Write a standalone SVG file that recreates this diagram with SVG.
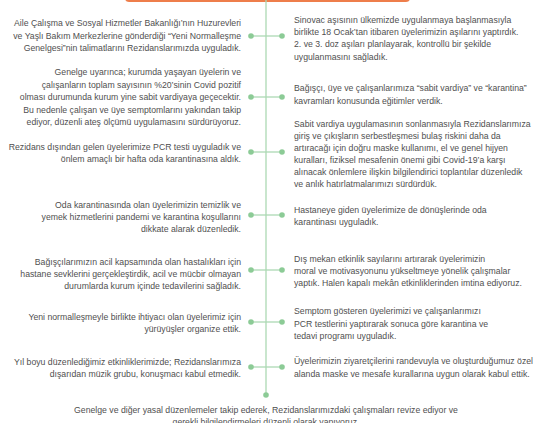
<svg xmlns="http://www.w3.org/2000/svg" width="534" height="423" viewBox="0 0 534 423">
<style>
.t{font-family:"Liberation Sans",Arial,sans-serif;font-size:8.7px;fill:#505050}
.l{text-anchor:end}
.m{text-anchor:middle}
.ln{stroke:#acd9b3;stroke-width:1.3;fill:none}
.dot{fill:#8ccb96}
</style>
<rect width="534" height="423" fill="#ffffff"/>
<g id="header"><rect x="125" y="-10" width="285" height="12" rx="4" fill="#ee7e4b"/></g>
<g id="connectors">
<line class="ln" x1="266" y1="0" x2="266" y2="395"/>
<line class="ln" x1="251" y1="36" x2="282" y2="36"/>
<line class="ln" x1="251" y1="97" x2="282" y2="97"/>
<line class="ln" x1="251" y1="152" x2="282" y2="152"/>
<line class="ln" x1="251" y1="215" x2="282" y2="215"/>
<line class="ln" x1="251" y1="270" x2="282" y2="270"/>
<line class="ln" x1="251" y1="322" x2="282" y2="322"/>
<line class="ln" x1="251" y1="367" x2="282" y2="367"/>
<g class="dot">
<circle cx="251" cy="36" r="2.8"/><circle cx="282" cy="36" r="2.8"/>
<circle cx="251" cy="97" r="2.8"/><circle cx="282" cy="97" r="2.8"/>
<circle cx="251" cy="152" r="2.8"/><circle cx="282" cy="152" r="2.8"/>
<circle cx="251" cy="215" r="2.8"/><circle cx="282" cy="215" r="2.8"/>
<circle cx="251" cy="270" r="2.8"/><circle cx="282" cy="270" r="2.8"/>
<circle cx="251" cy="322" r="2.8"/><circle cx="282" cy="322" r="2.8"/>
<circle cx="251" cy="367" r="2.8"/><circle cx="282" cy="367" r="2.8"/>
<circle cx="266" cy="395" r="2.8"/>
</g>
</g>
<g id="left1"><text class="t l"><tspan x="241" y="26">Aile Çalışma ve Sosyal Hizmetler Bakanlığı’nın Huzurevleri</tspan><tspan x="241" y="39">ve Yaşlı Bakım Merkezlerine gönderdiği “Yeni Normalleşme</tspan><tspan x="241" y="51">Genelgesi”nin talimatlarını Rezidanslarımızda uyguladık.</tspan></text></g>
<g id="left2"><text class="t l"><tspan x="241" y="75">Genelge uyarınca; kurumda yaşayan üyelerin ve</tspan><tspan x="241" y="88">çalışanların toplam sayısının %20’sinin Covid pozitif</tspan><tspan x="241" y="100">olması durumunda kurum yine sabit vardiyaya geçecektir.</tspan><tspan x="241" y="113">Bu nedenle çalışan ve üye semptomlarını yakından takip</tspan><tspan x="241" y="125">ediyor, düzenli ateş ölçümü uygulamasını sürdürüyoruz.</tspan></text></g>
<g id="left3"><text class="t l"><tspan x="241" y="150">Rezidans dışından gelen üyelerimize PCR testi uyguladık ve</tspan><tspan x="241" y="162">önlem amaçlı bir hafta oda karantinasına aldık.</tspan></text></g>
<g id="left4"><text class="t l"><tspan x="241" y="208">Oda karantinasında olan üyelerimizin temizlik ve</tspan><tspan x="241" y="220">yemek hizmetlerini pandemi ve karantina koşullarını</tspan><tspan x="241" y="232">dikkate alarak düzenledik.</tspan></text></g>
<g id="left5"><text class="t l"><tspan x="241" y="265">Bağışçılarımızın acil kapsamında olan hastalıkları için</tspan><tspan x="241" y="277">hastane sevklerini gerçekleştirdik, acil ve mücbir olmayan</tspan><tspan x="241" y="289">durumlarda kurum içinde tedavilerini sağladık.</tspan></text></g>
<g id="left6"><text class="t l"><tspan x="241" y="320">Yeni normalleşmeyle birlikte ihtiyacı olan üyelerimiz için</tspan><tspan x="241" y="332">yürüyüşler organize ettik.</tspan></text></g>
<g id="left7"><text class="t l"><tspan x="241" y="365">Yıl boyu düzenlediğimiz etkinliklerimizde; Rezidanslarımıza</tspan><tspan x="241" y="377">dışarıdan müzik grubu, konuşmacı kabul etmedik.</tspan></text></g>
<g id="right1"><text class="t"><tspan x="294" y="23">Sinovac aşısının ülkemizde uygulanmaya başlanmasıyla</tspan><tspan x="294" y="35">birlikte 18 Ocak’tan itibaren üyelerimizin aşılarını yaptırdık.</tspan><tspan x="294" y="47">2. ve 3. doz aşıları planlayarak, kontrollü bir şekilde</tspan><tspan x="294" y="60">uygulanmasını sağladık.</tspan></text></g>
<g id="right2"><text class="t"><tspan x="294" y="91">Bağışçı, üye ve çalışanlarımıza “sabit vardiya” ve “karantina”</tspan><tspan x="294" y="104">kavramları konusunda eğitimler verdik.</tspan></text></g>
<g id="right3"><text class="t"><tspan x="294" y="127">Sabit vardiya uygulamasının sonlanmasıyla Rezidanslarımıza</tspan><tspan x="294" y="139">giriş ve çıkışların serbestleşmesi bulaş riskini daha da</tspan><tspan x="294" y="151">artıracağı için doğru maske kullanımı, el ve genel hijyen</tspan><tspan x="294" y="163">kuralları, fiziksel mesafenin önemi gibi Covid-19’a karşı</tspan><tspan x="294" y="175">alınacak önlemlere ilişkin bilgilendirici toplantılar düzenledik</tspan><tspan x="294" y="187">ve anlık hatırlatmalarımızı sürdürdük.</tspan></text></g>
<g id="right4"><text class="t"><tspan x="294" y="213">Hastaneye giden üyelerimize de dönüşlerinde oda</tspan><tspan x="294" y="225">karantinası uyguladık.</tspan></text></g>
<g id="right5"><text class="t"><tspan x="294" y="262">Dış mekan etkinlik sayılarını artırarak üyelerimizin</tspan><tspan x="294" y="274">moral ve motivasyonunu yükseltmeye yönelik çalışmalar</tspan><tspan x="294" y="286">yaptık. Halen kapalı mekân etkinliklerinden imtina ediyoruz.</tspan></text></g>
<g id="right6"><text class="t"><tspan x="294" y="314">Semptom gösteren üyelerimizi ve çalışanlarımızı</tspan><tspan x="294" y="327">PCR testlerini yaptırarak sonuca göre karantina ve</tspan><tspan x="294" y="339">tedavi programı uyguladık.</tspan></text></g>
<g id="right7"><text class="t"><tspan x="294" y="364">Üyelerimizin ziyaretçilerini randevuyla ve oluşturduğumuz özel</tspan><tspan x="294" y="377">alanda maske ve mesafe kurallarına uygun olarak kabul ettik.</tspan></text></g>
<g id="bottom"><text class="t m"><tspan x="266" y="413">Genelge ve diğer yasal düzenlemeler takip ederek, Rezidanslarımızdaki çalışmaları revize ediyor ve</tspan><tspan x="266" y="425">gerekli bilgilendirmeleri düzenli olarak yapıyoruz.</tspan></text></g>
</svg>
